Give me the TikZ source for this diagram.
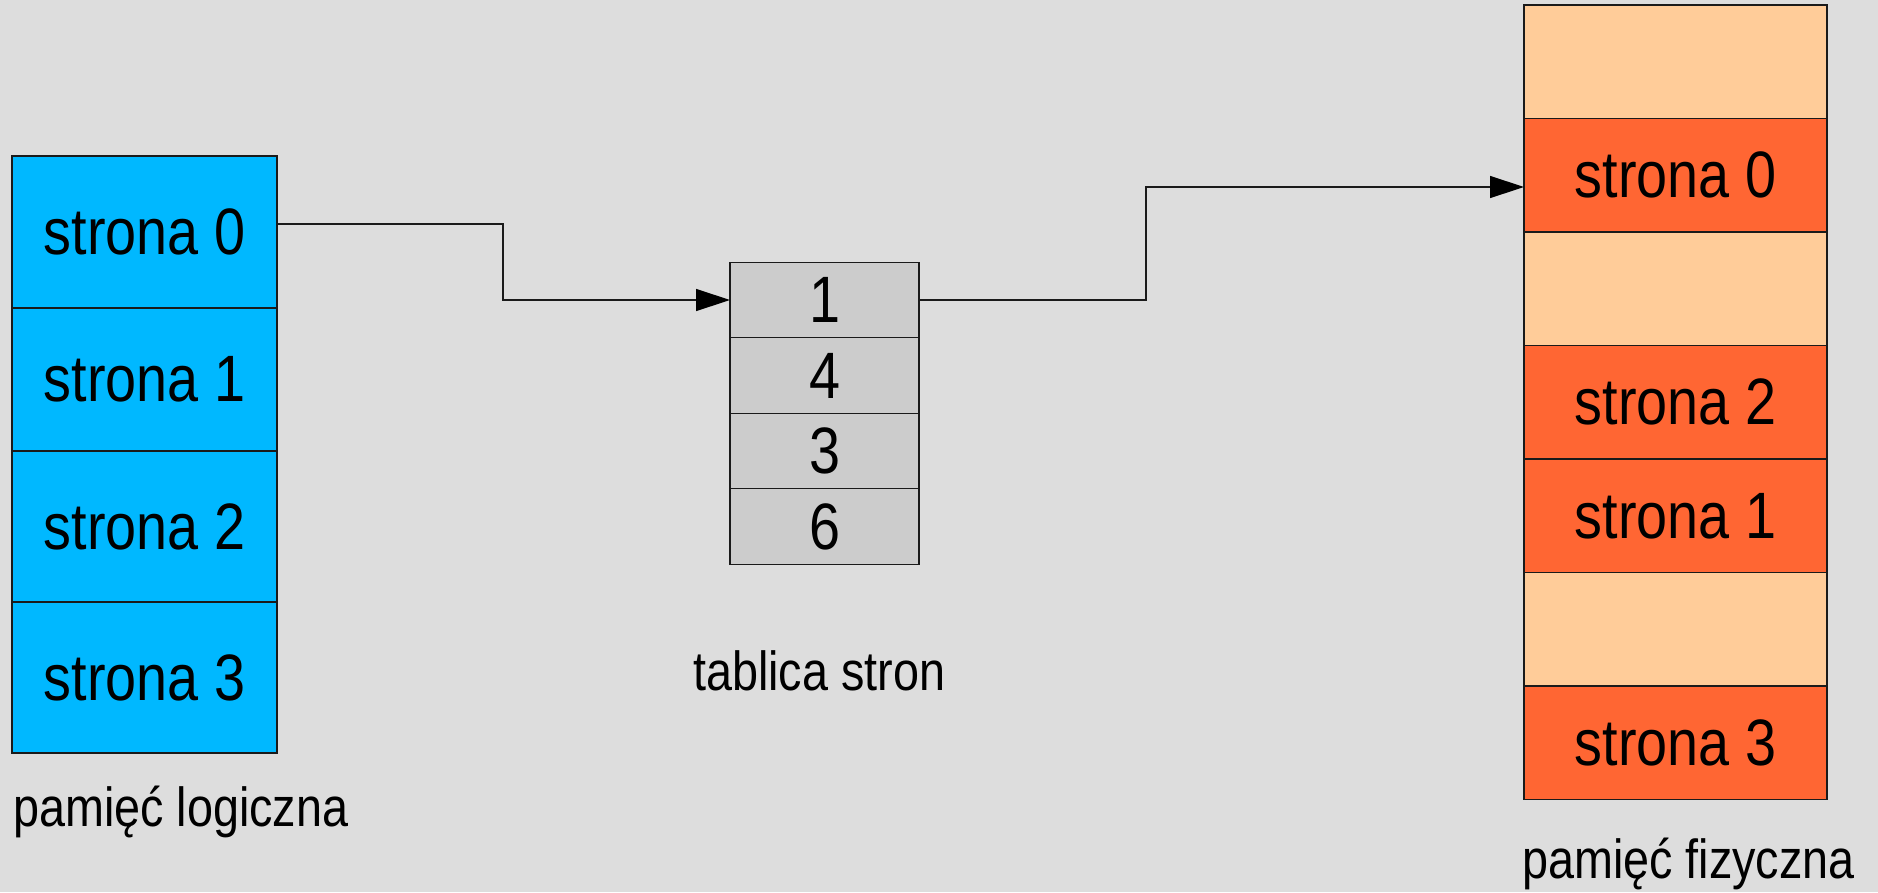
\documentclass[tikz,border=0pt]{standalone}
\usepackage{fontspec}
\setmainfont{Liberation Sans}[FakeStretch=0.85]
\usetikzlibrary{arrows.meta,calc}
\definecolor{bg}{HTML}{DDDDDD}
\definecolor{logblue}{HTML}{00B8FF}
\definecolor{tabgrey}{HTML}{CCCCCC}
\definecolor{freeor}{HTML}{FFCC99}
\definecolor{usedor}{HTML}{FF6633}
\definecolor{edge}{HTML}{1A1A1A}
\tikzset{
  cell/.style={draw=edge, line width=1.3pt, rectangle, inner sep=0pt, outer sep=0pt,
    font=\fontsize{65.6}{70}\selectfont, text=black},
  logcell/.style={cell, fill=logblue, minimum width=265pt},
  tabcell/.style={cell, fill=tabgrey, minimum width=189pt, minimum height=75.5pt},
  freecell/.style={cell, fill=freeor, minimum width=303pt, minimum height=113.5pt},
  usedcell/.style={cell, fill=usedor, minimum width=303pt, minimum height=113.5pt},
  caption/.style={font=\fontsize{55}{60}\selectfont, text=black, inner sep=0pt, anchor=base west},
  link/.style={draw=edge, line width=1.3pt, -{Triangle[length=34pt,width=22pt,color=black,fill=black]}}
}
\begin{document}
\begin{tikzpicture}[x=1pt,y=-1pt]
\fill[bg] (0,0) rectangle (1878,892);
\useasboundingbox (0,0) rectangle (1878,892);
% logical memory
\node[logcell, minimum height=152pt] (l0) at (144.5,232) {strona 0};
\node[logcell, minimum height=143pt] (l1) at (144.5,379.5) {strona 1};
\node[logcell, minimum height=151pt] (l2) at (144.5,526.5) {strona 2};
\node[logcell, minimum height=151pt] (l3) at (144.5,677.5) {strona 3};
% page table
\node[tabcell] (t0) at (824.5,300) {1};
\node[tabcell] (t1) at (824.5,375.5) {4};
\node[tabcell] (t2) at (824.5,451) {3};
\node[tabcell] (t3) at (824.5,526.5) {6};
% physical memory
\node[freecell] (p0) at (1675.5,61.75) {};
\node[usedcell] (p1) at (1675.5,175.25) {strona 0};
\node[freecell] (p2) at (1675.5,288.75) {};
\node[usedcell] (p3) at (1675.5,402.25) {strona 2};
\node[usedcell] (p4) at (1675.5,515.75) {strona 1};
\node[freecell] (p5) at (1675.5,629.25) {};
\node[usedcell] (p6) at (1675.5,742.75) {strona 3};
% captions
\node[caption] (cl) at (13,826) {pamięć logiczna};
\node[caption] (ct) at (693,690) {tablica stron};
\node[caption] (cp) at (1522,878) {pamięć fizyczna};
% connectors
\coordinate (a0) at ($(l0.east)+(0,-8)$);
\coordinate (b0) at ($(p1.west)+(0,11.75)$);
\draw[link] (a0) -- (503,0 |- a0) |- (t0.west);
\draw[link] (t0.east) -- (1146,0 |- t0.east) |- (b0);
\end{tikzpicture}
\end{document}
